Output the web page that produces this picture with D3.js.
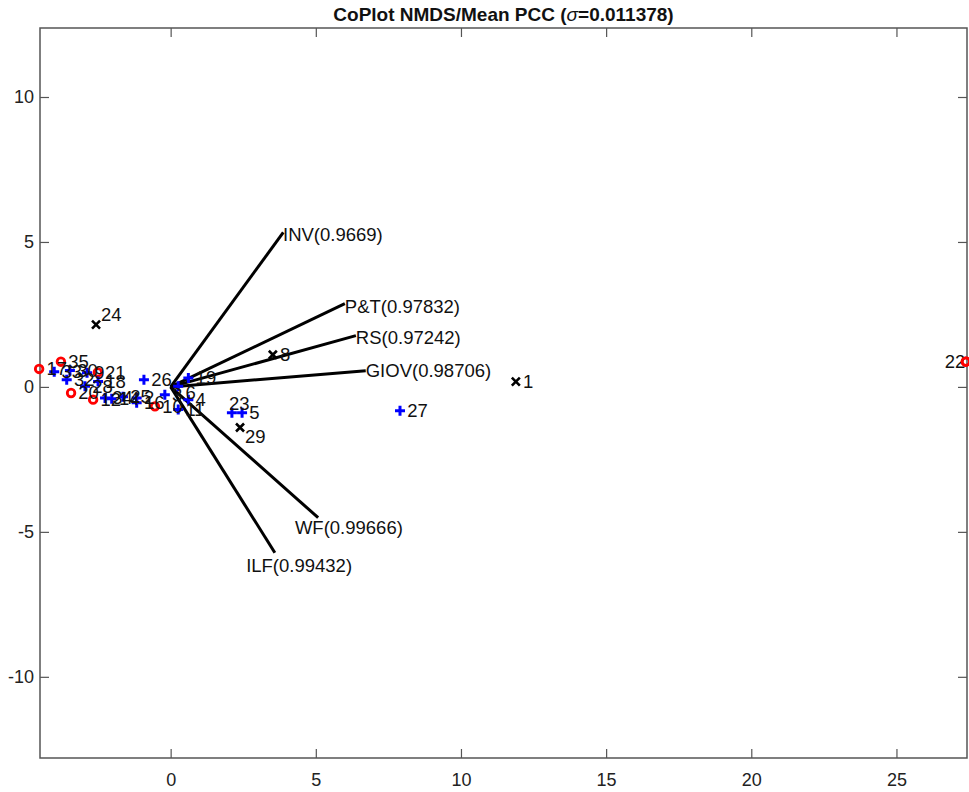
<!DOCTYPE html>
<html>
<head>
<meta charset="utf-8">
<script src="https://cdn.jsdelivr.net/npm/d3@7"></script>
<style>
  html, body { margin: 0; padding: 0; background: #fff; }
  svg { display: block; font-family: "Liberation Sans", Arial, Helvetica, sans-serif; }
</style>
</head>
<body>
<svg id="chart" width="969" height="792"></svg>
<script>
// Observations (NMDS coordinates), marker group and label placement offsets (data units)
const pointIds    = ["1","8","24","29","22","17","35","21","20","12","10","27","5","23","33","30","32","9","28","18","34","14","25","2","16","3","11","4","19","26","6"];
const pointX      = [11.89,3.52,-2.57,2.39,27.39,-4.53,-3.78,-2.51,-3.43,-2.67,-0.54,7.90,2.46,2.11,-4.01,-3.47,-3.58,-2.88,-2.95,-2.50,-2.26,-2.03,-1.64,-1.17,-1.17,-0.20,0.26,0.61,0.61,-0.92,0.26];
const pointY      = [0.18,1.11,2.15,-1.40,0.87,0.62,0.87,0.50,-0.21,-0.44,-0.67,-0.82,-0.89,-0.89,0.52,0.57,0.25,0.49,0.02,0.19,-0.38,-0.41,-0.34,-0.38,-0.55,-0.27,-0.78,-0.44,0.31,0.25,0.02];
const pointGroup  = ["x","x","x","x","o","o","o","o","o","o","o","+","+","+","+","+","+","+","+","+","+","+","+","+","+","+","+","+","+","+","+"];
const labelDx     = [0.25,0.25,0.17,0.17,-0.02,0.25,0.25,0.25,0.25,0.25,0.25,0.25,0.25,-0.10,0.25,0.25,0.25,0.25,0.25,0.25,0.25,0.25,0.25,0.25,0.25,0.25,0.25,0.25,0.25,0.25,0.25];
const labelDy     = [0,0,0.36,-0.31,0,0,0,0,0,0,0,0,0,0.31,0,0,0,0,0,0,0,0,0,0,0,0,0,0,0,0,-0.2];

// Variable vectors (correlation with the embedding) and their label anchors
const varNames    = ["INV","P&T","RS","GIOV","WF","ILF"];
const varCorr     = ["0.9669","0.97832","0.97242","0.98706","0.99666","0.99432"];
const varX        = [3.88,6.00,6.38,6.72,5.08,3.59];
const varY        = [5.33,2.87,1.77,0.56,-4.51,-5.72];
const varLabelX   = [3.87,6.00,6.38,6.72,4.28,2.60];
const varLabelY   = [5.25,2.77,1.70,0.56,-4.85,-6.16];

const xTicks = [0,5,10,15,20,25];
const yTicks = [-10,-5,0,5,10];
const xDomain = [-4.50,27.43];
const yDomain = [-12.80,12.38];
const titleText = "CoPlot NMDS/Mean PCC (";
const sigmaValue = "=0.011378)";

const svg = d3.select("#chart");
const plotLeft = 40, plotRight = 967, plotTop = 28, plotBottom = 758;

const x = d3.scaleLinear().domain(xDomain).range([plotLeft, plotRight]);
const y = d3.scaleLinear().domain(yDomain).range([plotBottom, plotTop]);

const axisColor = "#555";
const textColor = "#222";
const tickLen = 9;
const labelSize = 18.5;

// Title
const title = svg.append("text")
  .attr("x", (plotLeft + plotRight) / 2).attr("y", 21)
  .attr("text-anchor", "middle")
  .attr("font-size", 19).attr("font-weight", "bold").attr("fill", "#111");
title.append("tspan").text(titleText);
title.append("tspan").attr("font-style", "italic").attr("font-weight", "normal").text("σ");
title.append("tspan").text(sigmaValue);

// Axes: bottom/left with labels, top/right as mirrored ticks (inward)
const fmt = d => String(d);
const axB = d3.axisBottom(x).tickValues(xTicks).tickSize(-tickLen).tickPadding(15).tickFormat(fmt);
const axL = d3.axisLeft(y).tickValues(yTicks).tickSize(-tickLen).tickPadding(6).tickFormat(fmt);
const axT = d3.axisTop(x).tickValues(xTicks).tickSize(-tickLen).tickFormat("");
const axR = d3.axisRight(y).tickValues(yTicks).tickSize(-tickLen).tickFormat("");

function style(g) {
  g.selectAll("path.domain").remove();
  g.selectAll(".tick line").attr("stroke", axisColor).attr("stroke-width", 1.2);
  g.selectAll(".tick text").attr("fill", textColor).attr("font-size", 18)
    .attr("font-family", "Liberation Sans, Arial, sans-serif");
}
svg.append("g").attr("transform", `translate(0,${plotBottom})`).call(axB).call(style);
svg.append("g").attr("transform", `translate(${plotLeft},0)`).call(axL).call(style);
svg.append("g").attr("transform", `translate(0,${plotTop})`).call(axT).call(style);
svg.append("g").attr("transform", `translate(${plotRight},0)`).call(axR).call(style);
svg.append("rect")
  .attr("x", plotLeft).attr("y", plotTop).attr("width", plotRight - plotLeft).attr("height", plotBottom - plotTop)
  .attr("fill", "none").attr("stroke", axisColor).attr("stroke-width", 1.5);

// Variable vectors
const vars = varNames.map((n, i) => ({ n, c: varCorr[i], x: varX[i], y: varY[i], lx: varLabelX[i], ly: varLabelY[i] }));
svg.append("g").selectAll("line").data(vars).join("line")
  .attr("x1", x(0)).attr("y1", y(0))
  .attr("x2", d => x(d.x)).attr("y2", d => y(d.y))
  .attr("stroke", "#000").attr("stroke-width", 3);
svg.append("g").selectAll("text").data(vars).join("text")
  .attr("x", d => x(d.lx)).attr("y", d => y(d.ly))
  .attr("dy", "0.35em")
  .attr("font-size", labelSize).attr("fill", "#111")
  .text(d => `${d.n}(${d.c})`);

// Observations
const pts = pointIds.map((id, i) => ({ id, x: pointX[i], y: pointY[i], g: pointGroup[i], dx: labelDx[i], dy: labelDy[i] }));
const gp = svg.append("g");
function drawMarker(g, p) {
  const cx = x(p.x), cy = y(p.y);
  if (p.g === "o") {
    g.append("circle").attr("cx", cx).attr("cy", cy).attr("r", 3.8)
      .attr("fill", "none").attr("stroke", "#ff0000").attr("stroke-width", 2.8);
  } else if (p.g === "+") {
    const s = 5;
    g.append("path").attr("d", `M${cx - s},${cy}H${cx + s}M${cx},${cy - s}V${cy + s}`)
      .attr("stroke", "#0000ff").attr("stroke-width", 3);
  } else {
    const s = 4;
    g.append("path").attr("d", `M${cx - s},${cy - s}L${cx + s},${cy + s}M${cx - s},${cy + s}L${cx + s},${cy - s}`)
      .attr("stroke", "#000").attr("stroke-width", 2.6);
  }
}
pts.forEach(p => drawMarker(gp, p));
svg.append("g").selectAll("text").data(pts).join("text")
  .attr("x", d => x(d.x + d.dx)).attr("y", d => y(d.y + d.dy))
  .attr("dy", "0.35em")
  .attr("text-anchor", d => d.id === "22" ? "end" : "start")
  .attr("font-size", labelSize).attr("fill", "#111")
  .text(d => d.id);

// The edge marker sits on top of its own label
const top22 = svg.append("g");
pts.filter(p => p.id === "22").forEach(p => drawMarker(top22, p));
</script>
</body>
</html>
